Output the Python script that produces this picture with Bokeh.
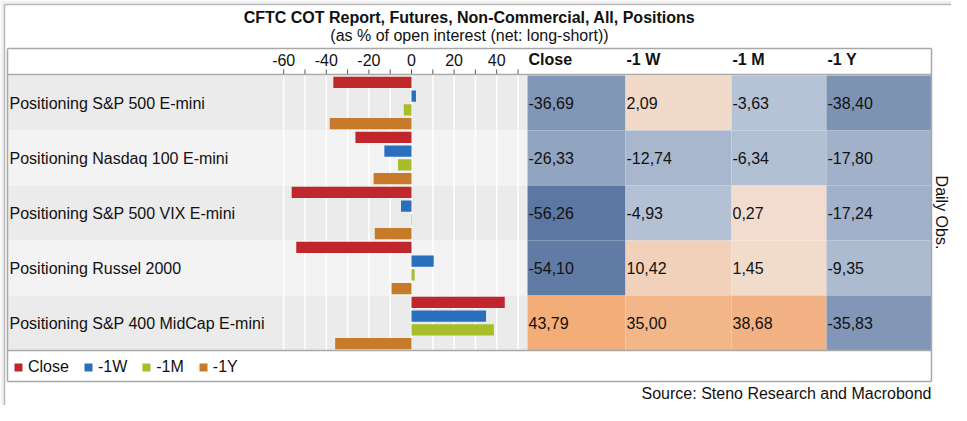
import math
from bokeh.plotting import figure
from bokeh.models import Range1d, ColumnDataSource, Legend, LegendItem
from bokeh.transform import linear_cmap
from bokeh.core.properties import value
from bokeh.embed import file_html
from bokeh.resources import INLINE

# ---------------- data ----------------
categories = [
    "Positioning S&P 500 E-mini",
    "Positioning Nasdaq 100 E-mini",
    "Positioning S&P 500 VIX E-mini",
    "Positioning Russel 2000",
    "Positioning S&P 400 MidCap E-mini",
]
close_vals = [-36.69, -26.33, -56.26, -54.10, 43.79]
w1_vals = [2.09, -12.74, -4.93, 10.42, 35.00]
m1_vals = [-3.63, -6.34, 0.27, 1.45, 38.68]
y1_vals = [-38.40, -17.80, -17.24, -9.35, -35.83]
series_names = ["Close", "-1W", "-1M", "-1Y"]
column_headers = ["Close", "-1 W", "-1 M", "-1 Y"]
tick_values = [-60, -40, -20, 0, 20, 40]
tick_labels = ["-60", "-40", "-20", "0", "20", "40"]
minor_tick_values = [-60, -50, -40, -30, -20, -10, 0, 10, 20, 30, 40, 50]
title_text = "CFTC COT Report, Futures, Non-Commercial, All, Positions"
subtitle_text = "(as % of open interest (net: long-short))"
source_text = "Source: Steno Research and Macrobond"
side_text = "Daily Obs."

# ---------------- layout / style ----------------
W, H = 951, 405
FONT = value("Liberation Sans")
ROW_TOP, ROW_H = 75, 55
HEADER_TOP, HEADER_BOTTOM = 48, 74
LEGEND_TOP, LEGEND_BOTTOM = 350, 381
TABLE_LEFT, TABLE_RIGHT = 7, 931
COL_EDGES = [527, 625, 731, 826, 931]
BAR_ZERO_PX, PX_PER_UNIT = 411, 2.13
SLOT = ROW_H / 4
BAR_H = 11.3
series_colors = ["#c0272d", "#2a6ebe", "#a8bd2a", "#c77b2a"]
row_fills = ["#ebebeb", "#f3f3f3"]
line_col = "#a8a8a8"
page_gray = "#f1f1f1"

def hex_to_rgb(h):
    return tuple(int(h[i:i + 2], 16) for i in (1, 3, 5))

def mix(c1, c2, t):
    a, b = hex_to_rgb(c1), hex_to_rgb(c2)
    return "#%02x%02x%02x" % tuple(int(round(a[k] + (b[k] - a[k]) * t)) for k in range(3))

# diverging palette: -60..0 blue, 0..45 orange (one colour per unit)
LOW, HIGH = -60, 45
palette = []
for i in range(HIGH - LOW):
    v = LOW + i + 0.5
    if v < 0:
        palette.append(mix("#bac6d8", "#56739e", (-v / 60.0) ** 1.1))
    else:
        palette.append(mix("#f1ddce", "#f3ab76", v / 45.0))

p = figure(width=W, height=H, x_range=Range1d(0, W), y_range=Range1d(H, 0),
           output_backend="svg", toolbar_location=None, min_border=0,
           x_axis_location=None, y_axis_location=None)
p.grid.grid_line_color = None
p.outline_line_color = None
p.background_fill_color = "white"
p.border_fill_color = "white"
p.extra_x_ranges = {"bars": Range1d(-BAR_ZERO_PX / PX_PER_UNIT, (W - BAR_ZERO_PX) / PX_PER_UNIT)}

# page background outside the outer box
p.quad(left=[0, 0], right=[W, 4], top=[0, 0], bottom=[4, H], fill_color=page_gray, line_color=None)
p.segment(x0=[4, 4], x1=[W, 4], y0=[4, 4], y1=[4, H], line_color="#b8b8b8", line_width=1.5)

n = len(categories)
row_tops = [ROW_TOP + i * ROW_H for i in range(n)]
row_centers = [t + ROW_H / 2 for t in row_tops]

# row backgrounds
p.quad(left=TABLE_LEFT, right=COL_EDGES[0], top=row_tops, bottom=[t + ROW_H for t in row_tops],
       fill_color=[row_fills[i % 2] for i in range(n)], line_color=None)

# vertical white gridlines
p.segment(x0=minor_tick_values, x1=minor_tick_values, y0=ROW_TOP, y1=ROW_TOP + n * ROW_H,
          x_range_name="bars", line_color="white", line_width=1.5)

# bars
renderers = []
for j, vals in enumerate([close_vals, w1_vals, m1_vals, y1_vals]):
    ys = [t + (j + 0.5) * SLOT for t in row_tops]
    r = p.hbar(y=ys, left=0, right=vals, height=BAR_H, x_range_name="bars",
               fill_color=series_colors[j], line_color=None)
    renderers.append(r)

# row labels
p.text(x=9, y=row_centers, text=categories, text_font=FONT, text_font_size="16px",
       text_align="left", text_baseline="middle", text_color="#111111")

# table cells
cell = dict(left=[], right=[], top=[], bottom=[], val=[], label=[], tx=[], ty=[])
for i in range(n):
    for c, vals in enumerate([close_vals, w1_vals, m1_vals, y1_vals]):
        cell["left"].append(COL_EDGES[c])
        cell["right"].append(COL_EDGES[c + 1])
        cell["top"].append(row_tops[i])
        cell["bottom"].append(row_tops[i] + ROW_H)
        cell["val"].append(vals[i])
        cell["label"].append(f"{vals[i]:.2f}".replace(".", ","))
        cell["tx"].append(COL_EDGES[c] + 1)
        cell["ty"].append(row_centers[i])
src = ColumnDataSource(cell)
p.quad(left="left", right="right", top="top", bottom="bottom", source=src,
       fill_color=linear_cmap("val", palette, LOW, HIGH), line_color=None)
p.text(x="tx", y="ty", text="label", source=src, text_font=FONT, text_font_size="16px",
       text_align="left", text_baseline="middle", text_color="#111111")

# header
p.text(x=[COL_EDGES[c] + 1 for c in range(4)], y=59, text=column_headers, text_font=FONT,
       text_font_size="16px", text_font_style="bold", text_align="left",
       text_baseline="middle", text_color="#111111")
p.text(x=tick_values, y=59, text=tick_labels, x_range_name="bars", text_font=FONT,
       text_font_size="16px", text_align="center", text_baseline="middle", text_color="#111111")
p.segment(x0=minor_tick_values, x1=minor_tick_values, y0=69, y1=74, x_range_name="bars",
          line_color="#555555", line_width=1)

# table borders
p.segment(x0=[TABLE_LEFT] * 4 + [TABLE_LEFT, TABLE_RIGHT], x1=[TABLE_RIGHT] * 4 + [TABLE_LEFT, TABLE_RIGHT],
          y0=[HEADER_TOP, HEADER_BOTTOM, LEGEND_TOP, LEGEND_BOTTOM, HEADER_TOP, HEADER_TOP],
          y1=[HEADER_TOP, HEADER_BOTTOM, LEGEND_TOP, LEGEND_BOTTOM, LEGEND_BOTTOM, LEGEND_BOTTOM],
          line_color=line_col, line_width=1.5)

# titles
p.text(x=469, y=17, text=[title_text], text_font=FONT, text_font_size="16px",
       text_font_style="bold", text_align="center", text_baseline="middle", text_color="#111111")
p.text(x=469, y=35, text=[subtitle_text], text_font=FONT, text_font_size="16px",
       text_align="center", text_baseline="middle", text_color="#111111")
p.text(x=TABLE_RIGHT, y=393, text=[source_text], text_font=FONT, text_font_size="16px",
       text_align="right", text_baseline="middle", text_color="#111111")
p.text(x=941, y=212, text=[side_text], angle=-math.pi / 2, text_font=FONT,
       text_font_size="16px", text_align="center", text_baseline="middle", text_color="#111111")

legend = Legend(items=[LegendItem(label=series_names[j], renderers=[renderers[j]]) for j in range(4)],
                orientation="horizontal", location=(13, H - 376), padding=0, margin=0,
                border_line_color=None, background_fill_alpha=0,
                glyph_width=10, glyph_height=10, label_standoff=5, spacing=14,
                label_text_font="Liberation Sans", label_text_font_size="16px",
                label_text_color="#111111")
p.add_layout(legend)

open("out.html", "w").write(file_html(p, INLINE))
